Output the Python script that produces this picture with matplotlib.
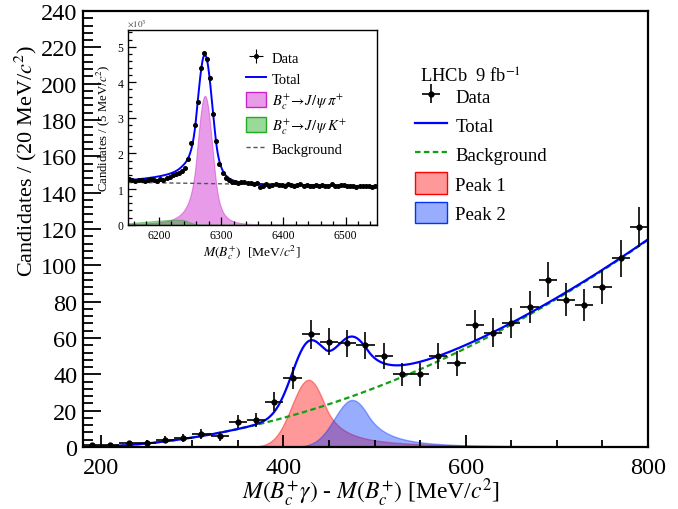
import numpy as np
import matplotlib.pyplot as plt
from matplotlib.lines import Line2D
from matplotlib.patches import Patch
from matplotlib.ticker import MultipleLocator

plt.rcParams['font.family'] = ['Liberation Serif', 'DejaVu Serif']
plt.rcParams['mathtext.fontset'] = 'stix'

# main plot: M(Bc+ gamma) - M(Bc+), 20 MeV bins
dm_centres = [190, 210, 230, 250, 270, 290, 310, 330, 350, 370, 390, 410, 430, 450, 470,
              490, 510, 530, 550, 570, 590, 610, 630, 650, 670, 690, 710, 730, 750, 770, 790]
dm_counts = [1, 1, 2, 2, 4, 5, 7, 6, 14, 15, 25, 38, 62, 58, 57,
             56, 50, 40, 40, 50, 46, 67, 63, 68, 77, 92, 81, 78, 88, 104, 121]

# fit shapes
bkg_start = 175.0
bkg_power = 1.92
bkg_at_800 = 114.0
peak1 = dict(mu=427.5, sigma=18.5, alpha=1.0, n=2.0, height=37.0)
peak2 = dict(mu=475.5, sigma=19.5, alpha=0.9, n=3.0, height=25.9)

# inset: M(Bc+), 5 MeV bins, counts in units of 10^3
m_lo, m_hi, m_bin = 6150, 6550, 5
m_counts = [1.27, 1.25, 1.24, 1.25, 1.26, 1.24, 1.25, 1.27, 1.25, 1.23, 1.28, 1.25,
            1.31, 1.35, 1.39, 1.43, 1.46, 1.50, 1.60, 1.85, 2.29, 2.80, 3.45, 4.40,
            4.82, 4.65, 4.12, 3.10, 2.35, 1.70, 1.45, 1.32, 1.25,
            1.21, 1.19, 1.18, 1.19, 1.20, 1.18, 1.17, 1.15, 1.17, 1.05, 1.10, 1.13,
            1.09, 1.12, 1.14, 1.11, 1.12, 1.10, 1.13, 1.11, 1.09, 1.12, 1.14, 1.10,
            1.12, 1.09, 1.10, 1.12, 1.09, 1.11, 1.08, 1.10, 1.13, 1.10, 1.09, 1.11,
            1.12, 1.08, 1.10, 1.09, 1.07, 1.09, 1.08, 1.10, 1.08, 1.07, 1.08]
inset_bkg = (1.19, 1.08)   # at 6150 and 6550
sig = dict(mu=6274, sigma=12, aL=1.2, nL=3, aR=1.5, nR=4, height=3.62)
kpi = dict(mu=6235, sigmaL=55, sigmaR=12, height=0.14)


def cb_tail(t, a, n):
    A = (n / a) ** n * np.exp(-a * a / 2)
    return A * (n / a - a + t) ** (-n)


def crystal_ball(x, mu, sigma, alpha, n, height):
    t = (x - mu) / sigma
    out = np.exp(-0.5 * t ** 2)
    tail = t > alpha
    out[tail] = cb_tail(t[tail], alpha, n)
    return height * out


def double_cb(x, mu, sigma, aL, nL, aR, nR, height):
    t = (x - mu) / sigma
    out = np.exp(-0.5 * t ** 2)
    r = t > aR
    l = t < -aL
    out[r] = cb_tail(t[r], aR, nR)
    out[l] = cb_tail(-t[l], aL, nL)
    return height * out


def bifur_gauss(x, mu, sigmaL, sigmaR, height):
    s = np.where(x < mu, sigmaL, sigmaR)
    return height * np.exp(-0.5 * ((x - mu) / s) ** 2)


fig = plt.figure(figsize=(6.78, 5.10), dpi=100)
ax = fig.add_axes([0.1224, 0.1216, 0.8333, 0.8549])

x = np.linspace(180, 800, 800)
bkg = bkg_at_800 * ((x - bkg_start) / (800 - bkg_start)) ** bkg_power
p1 = crystal_ball(x, **peak1)
p2 = crystal_ball(x, **peak2)
total = bkg + p1 + p2

ax.fill_between(x, 0, p1, facecolor='red', alpha=0.4, edgecolor='red', lw=1)
ax.fill_between(x, 0, p2, facecolor='#0033ff', alpha=0.4, edgecolor='#0033ff', lw=1)
ax.plot(x, bkg, color='#11a011', ls=(0, (2.5, 1.5)), lw=1.6)
ax.plot(x, total, color='blue', lw=1.6)
data = ax.errorbar(dm_centres, dm_counts, xerr=10, yerr=np.sqrt(dm_counts), fmt='o',
                   color='black', ms=3.5, elinewidth=1.2, capsize=0)

ax.set_xlim(180, 800)
ax.set_ylim(0, 240)
ax.xaxis.set_major_locator(MultipleLocator(200))
ax.xaxis.set_minor_locator(MultipleLocator(50))
ax.yaxis.set_major_locator(MultipleLocator(20))
ax.yaxis.set_minor_locator(MultipleLocator(4))
ax.tick_params(axis='both', which='both', direction='in', labelsize=17.5)
ax.tick_params(axis='x', which='major', length=9, width=1.3, pad=7)
ax.tick_params(axis='x', which='minor', length=5, width=1.3)
ax.tick_params(axis='y', which='major', length=13, width=1.3, pad=4)
ax.tick_params(axis='y', which='minor', length=7, width=1.3)
for s in ax.spines.values():
    s.set_linewidth(1.6)
ax.set_xlabel(r'$M(B_c^{+}\gamma)$ - $M(B_c^{+})$ [MeV/$c^{2}$]', fontsize=17)
ax.xaxis.set_label_coords(0.51, -0.066)
ax.set_ylabel(r'Candidates / (20 MeV/$c^{2}$)', fontsize=16)
ax.yaxis.set_label_coords(-0.078, 0.658)

fig.text(420 / 678, 1 - 77 / 510, r'LHCb  9 fb$^{-1}$', fontsize=13.3, va='center')

handles = [data,
           Line2D([], [], color='blue', lw=1.6),
           Line2D([], [], color='#11a011', ls=(0, (2.5, 1.5)), lw=1.6),
           Patch(facecolor=(1, 0, 0, 0.4), edgecolor='red'),
           Patch(facecolor=(0, 0.2, 1, 0.4), edgecolor='#0033ff')]
labels = ['Data', 'Total', 'Background', 'Peak 1', 'Peak 2']
ax.legend(handles, labels, loc='upper left', bbox_to_anchor=(415 / 678, 1 - 86 / 510),
          bbox_transform=fig.transFigure, frameon=False, fontsize=13.5,
          handlelength=1.7, handleheight=1.4, handletextpad=0.45, labelspacing=0.4,
          borderpad=0, borderaxespad=0)

# inset
ins = fig.add_axes([0.1883, 0.5575, 0.3673, 0.3818])
m_centres = np.arange(m_lo + m_bin / 2, m_hi, m_bin)
xm = np.linspace(m_lo, m_hi, 1000)
ib = inset_bkg[0] + (inset_bkg[1] - inset_bkg[0]) * (xm - m_lo) / (m_hi - m_lo)
isig = double_cb(xm, **sig)
ik = bifur_gauss(xm, **kpi)
itot = ib + isig + ik

ins.fill_between(xm, 0, isig, facecolor='#cc22cc', alpha=0.45, edgecolor='#cc22cc', lw=0.8)
ins.fill_between(xm, 0, ik, facecolor='#22aa22', alpha=0.45, edgecolor='#22aa22', lw=0.8)
ins.plot(xm, ib, color='#555555', ls=(0, (3, 2)), lw=1.0)
ins.plot(xm, itot, color='blue', lw=1.4)
m_counts = np.array(m_counts)
idata = ins.errorbar(m_centres, m_counts, xerr=m_bin / 2, yerr=np.sqrt(m_counts * 1000) / 1000,
                     fmt='o', color='black', ms=2.6, elinewidth=0.8, capsize=0)

ins.set_xlim(m_lo, m_hi)
ins.set_ylim(0, 5.47)
ins.xaxis.set_major_locator(MultipleLocator(100))
ins.xaxis.set_minor_locator(MultipleLocator(20))
ins.yaxis.set_major_locator(MultipleLocator(1))
ins.yaxis.set_minor_locator(MultipleLocator(0.2))
ins.tick_params(axis='both', which='both', direction='in', labelsize=8.4)
ins.tick_params(which='major', length=6, width=0.9, pad=3)
ins.tick_params(which='minor', length=3, width=0.9)
for s in ins.spines.values():
    s.set_linewidth(1.0)
ins.set_xlabel(r'$M(B_c^{+})$  [MeV/$c^{2}$]', fontsize=9.7, labelpad=1)
ins.set_ylabel(r'Candidates / (5 MeV/$c^{2}$)', fontsize=9.2, labelpad=4)
fig.text(127 / 678, 1 - 24 / 510, r'$\times10^{3}$', fontsize=6.5, color='#444444', va='center')

ihandles = [idata,
            Line2D([], [], color='blue', lw=1.4),
            Patch(facecolor=(0.8, 0.13, 0.8, 0.45), edgecolor='#cc22cc'),
            Patch(facecolor=(0.13, 0.67, 0.13, 0.45), edgecolor='#22aa22'),
            Line2D([], [], color='#555555', ls=(0, (3, 2)), lw=1.0)]
ilabels = ['Data', 'Total', r'$B_c^{+}\!\rightarrow\! J/\,\psi\,\pi^{+}$',
           r'$B_c^{+}\!\rightarrow\! J/\,\psi\,K^{+}$', 'Background']
ins.legend(ihandles, ilabels, loc='upper left', bbox_to_anchor=(246 / 678, 1 - 51 / 510),
           bbox_transform=fig.transFigure, frameon=False, fontsize=10.5,
           handlelength=1.35, handleheight=1.2, handletextpad=0.4, labelspacing=0.36,
           borderpad=0, borderaxespad=0)

fig.savefig('out.png', dpi=100)
